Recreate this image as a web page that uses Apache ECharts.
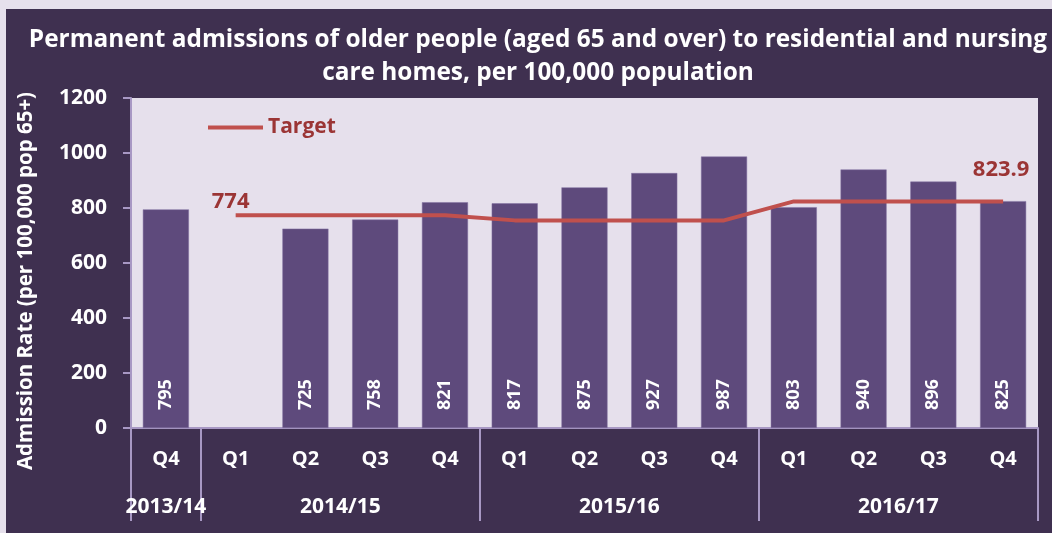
<!DOCTYPE html>
<html><head><meta charset="utf-8">
<script src="https://cdn.jsdelivr.net/npm/echarts@6/dist/echarts.min.js"></script>
<style>
html,body{margin:0;padding:0;background:#e6e0ec;width:1052px;height:533px;overflow:hidden}
#c{position:absolute;left:6px;top:9px;width:1046px;height:524px}
</style></head><body>
<div id="c"></div>
<script>
const quarters = ['Q4','Q1','Q2','Q3','Q4','Q1','Q2','Q3','Q4','Q1','Q2','Q3','Q4'];
const admissions = [795, null, 725, 758, 821, 817, 875, 927, 987, 803, 940, 896, 825];
const target = [null, 774, 774, 774, 774, 755, 755, 755, 755, 823.9, 823.9, 823.9, 823.9];
const yearLabels = ['2013/14', '2014/15', '2015/16', '2016/17'];
const yearCenters = [0.5, 3, 7, 11];
const yearBounds = [0, 1, 5, 9, 13];

const FONT = '"Open Sans", Lato, sans-serif';
const chart = echarts.init(document.getElementById('c'));
chart.setOption({
  backgroundColor: '#3f3050',
  animation: false,
  title: {
    text: 'Permanent admissions of older people (aged 65 and over) to residential and nursing\ncare homes, per 100,000 population',
    left: 527, textAlign: 'center', top: 10,
    textStyle: {color: '#ffffff', fontFamily: FONT, fontWeight: 'bold', fontSize: 24.4, lineHeight: 33}
  },
  legend: {
    data: [{name: 'Target', icon: 'rect'}],
    left: 197, top: 103, itemWidth: 55, itemHeight: 4, itemGap: 4,
    textStyle: {color: '#9b3535', fontFamily: FONT, fontWeight: 'bold', fontSize: 21}
  },
  grid: {left: 125, right: 14, top: 89, bottom: 105, show: true, backgroundColor: '#e6e0ec', borderWidth: 0,
         containLabel: false, outerBoundsMode: 'none'},
  xAxis: [{
    type: 'category', data: quarters, position: 'bottom',
    axisLine: {lineStyle: {color: '#a898c4', width: 2}},
    axisTick: {length: 47, lineStyle: {color: '#a898c4', width: 2}},
    axisLabel: {color: '#ffffff', fontFamily: FONT, fontWeight: 'bold', fontSize: 20, margin: 21}
  }, {
    type: 'value', min: 0, max: 13, position: 'bottom',
    axisLine: {show: false},
    splitLine: {show: false},
    axisTick: {show: true, length: 93, customValues: yearBounds, lineStyle: {color: '#a898c4', width: 2}},
    axisLabel: {
      customValues: yearCenters, color: '#ffffff', fontFamily: FONT, fontWeight: 'bold', fontSize: 21, margin: 69,
      formatter: v => yearLabels[yearCenters.indexOf(v)] || ''
    }
  }],
  yAxis: {
    type: 'value', min: 0, max: 1200, interval: 200,
    name: 'Admission Rate (per 100,000 pop 65+)', nameLocation: 'middle', nameGap: 94, nameRotate: 90,
    nameTextStyle: {color: '#ffffff', fontFamily: FONT, fontWeight: 'bold', fontSize: 20.5, padding: [0, 36, 0, 0]},
    axisLine: {show: true, lineStyle: {color: '#a898c4', width: 2}},
    axisTick: {show: true, length: 8, lineStyle: {color: '#a898c4', width: 2}},
    splitLine: {show: false},
    axisLabel: {color: '#ffffff', fontFamily: FONT, fontWeight: 'bold', fontSize: 21, margin: 24, formatter: v => String(v)}
  },
  series: [{
    name: 'Admissions', type: 'bar', data: admissions, barCategoryGap: '34%',
    itemStyle: {color: '#5e4a7c', borderColor: '#8070a0', borderWidth: 0.5},
    label: {
      show: true, position: 'insideBottom', rotate: 90, align: 'left', verticalAlign: 'middle', distance: 18,
      color: '#ffffff', fontFamily: FONT, fontWeight: 'bold', fontSize: 18
    }
  }, {
    name: 'Target', type: 'line', data: target, symbol: 'none', showSymbol: false,
    lineStyle: {color: '#c0504d', width: 4}, itemStyle: {color: '#c0504d'},
    label: {show: false},
    markPoint: {
      symbol: 'circle', symbolSize: 0,
      label: {show: true, color: '#9b3535', fontFamily: FONT, fontWeight: 'bold', fontSize: 22},
      data: [
        {coord: [1, 774], value: 774, label: {formatter: '774', offset: [-5, -13]}},
        {coord: [12, 823.9], value: 823.9, label: {formatter: '823.9', offset: [-2, -32]}}
      ]
    }
  }]
});
</script>
</body></html>
